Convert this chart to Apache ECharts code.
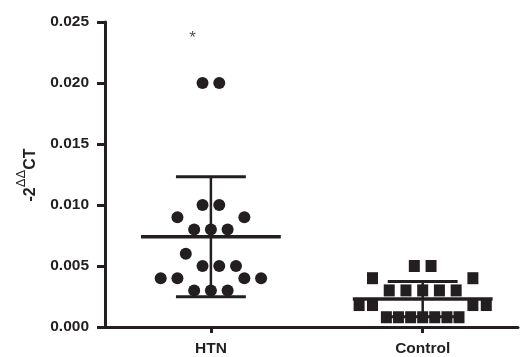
<!DOCTYPE html>
<html>
<head>
<meta charset="utf-8">
<script src="https://cdn.jsdelivr.net/npm/echarts@6/dist/echarts.min.js"></script>
<style>
  html, body {margin: 0; padding: 0; background: #fff;}
  #main {width: 522px; height: 357px;}
</style>
</head>
<body>
<div id="main"></div>
<script>
const groups = ['HTN', 'Control'];
const yTicks = [0, 0.005, 0.010, 0.015, 0.020, 0.025];

// values, and the column slot each dot sits in within its row
const htnValues = [0.020, 0.020, 0.010, 0.010, 0.009, 0.009, 0.008, 0.008, 0.008, 0.006,
  0.005, 0.005, 0.005, 0.004, 0.004, 0.004, 0.004, 0.003, 0.003, 0.003];
const htnSlots = [-0.5, 0.5, -0.5, 0.5, -2, 2, -1, 0, 1, -1.5,
  -0.5, 0.5, 1.5, -3, -2, 2, 3, -1, 0, 1];

const controlValues = [0.005, 0.005, 0.004, 0.004, 0.003, 0.003, 0.003, 0.003, 0.003,
  0.0018, 0.0018, 0.0018, 0.0018, 0.0008, 0.0008, 0.0008, 0.0008, 0.0008, 0.0008, 0.0008];
const controlSlots = [-0.5, 0.5, -3, 3, -2, -1, 0, 1, 2,
  -3.8, -3, 3, 3.8, -2.17, -1.45, -0.72, 0, 0.72, 1.45, 2.17];

const annotations = [{group: 0, slot: -1.1, value: 0.0237, text: '*'}];

const ink = '#231f20';
const slotWidth = 0.079;
const font = 'Liberation Sans, Arial, sans-serif';

function toPoints(groupIdx, values, slots) {
  return values.map((v, i) => [groupIdx + 1 + slots[i] * slotWidth, v]);
}

function meanSd(values) {
  const m = values.reduce((a, b) => a + b, 0) / values.length;
  const s = Math.sqrt(values.reduce((a, b) => a + (b - m) * (b - m), 0) / (values.length - 1));
  return [m, s];
}

const stats = [htnValues, controlValues].map((vals, i) => [i + 1].concat(meanSd(vals)));

const chart = echarts.init(document.getElementById('main'));
const option = {
  animation: false,
  grid: {left: 105, right: 4, top: 22, bottom: 30, outerBoundsMode: 'none'},
  xAxis: {
    type: 'value',
    min: 0.5,
    max: 2.45,
    splitLine: {show: false},
    axisLine: {onZero: false, lineStyle: {color: ink, width: 3}},
    axisTick: {show: true, customValues: [1, 2], length: 6, lineStyle: {color: ink, width: 3}},
    axisLabel: {
      customValues: [1, 2],
      formatter: (v) => groups[Math.round(v) - 1],
      color: ink, fontFamily: font, fontWeight: 'bold', fontSize: 15.5, margin: 14
    }
  },
  yAxis: {
    type: 'value',
    min: 0,
    max: 0.025,
    interval: 0.005,
    splitLine: {show: false},
    axisLine: {show: true, lineStyle: {color: ink, width: 3}},
    axisTick: {show: true, length: 8, lineStyle: {color: ink, width: 3}},
    axisLabel: {
      formatter: (v) => v.toFixed(3),
      color: ink, fontFamily: font, fontWeight: 'bold', fontSize: 15.5, margin: 16
    }
  },
  graphic: [{
    type: 'text',
    x: 27,
    y: 175,
    rotation: Math.PI / 2,
    style: {
      text: '{b|-2}{s|ΔΔ}{b|CT}',
      align: 'center',
      verticalAlign: 'middle',
      fill: ink,
      rich: {
        b: {fontFamily: font, fontWeight: 'bold', fontSize: 16, fill: ink, lineHeight: 24, verticalAlign: 'bottom'},
        s: {fontFamily: font, fontSize: 13, fill: ink, lineHeight: 24, verticalAlign: 'top'}
      }
    }
  }],
  series: [
    {
      type: 'scatter',
      symbol: 'circle',
      symbolSize: 12,
      itemStyle: {color: ink, opacity: 1},
      data: toPoints(0, htnValues, htnSlots)
    },
    {
      type: 'scatter',
      symbol: 'rect',
      symbolSize: [11, 12],
      itemStyle: {color: ink, opacity: 1},
      data: toPoints(1, controlValues, controlSlots)
    },
    {
      type: 'custom',
      z: 5,
      data: stats,
      renderItem: function (params, api) {
        const x = api.value(0), m = api.value(1), s = api.value(2);
        const meanL = api.coord([x - 0.33, m]), meanR = api.coord([x + 0.33, m]);
        const top = api.coord([x, m + s]), bot = api.coord([x, m - s]);
        const capL = api.coord([x - 0.165, m + s])[0], capR = api.coord([x + 0.165, m + s])[0];
        const st = {stroke: ink, lineWidth: 3};
        return {
          type: 'group',
          children: [
            {type: 'line', shape: {x1: top[0], y1: top[1], x2: bot[0], y2: bot[1]}, style: {stroke: ink, lineWidth: 2.5}},
            {type: 'line', shape: {x1: meanL[0], y1: meanL[1], x2: meanR[0], y2: meanR[1]}, style: {stroke: ink, lineWidth: 3.5}},
            {type: 'line', shape: {x1: capL, y1: top[1], x2: capR, y2: top[1]}, style: st},
            {type: 'line', shape: {x1: capL, y1: bot[1], x2: capR, y2: bot[1]}, style: st}
          ]
        };
      }
    },
    {
      type: 'scatter',
      symbolSize: 0,
      silent: true,
      data: annotations.map((a) => ({value: [a.group + 1 + a.slot * slotWidth, a.value], name: a.text})),
      label: {show: true, position: 'inside', formatter: '{b}', color: ink, fontFamily: font, fontSize: 17}
    }
  ]
};
chart.setOption(option);
</script>
</body>
</html>
